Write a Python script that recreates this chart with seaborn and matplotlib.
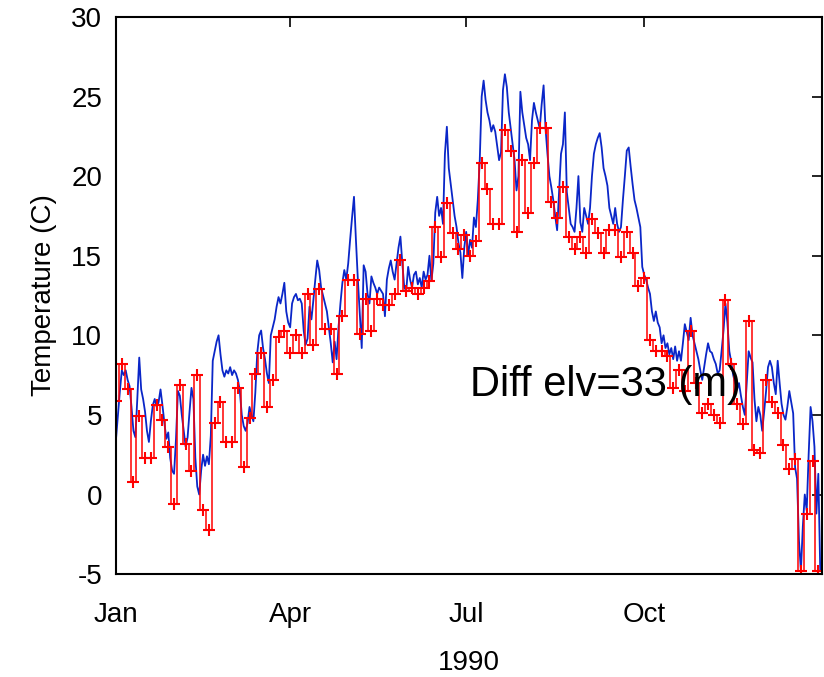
import matplotlib
matplotlib.use('Agg')
import matplotlib.pyplot as plt
import pandas as pd
import seaborn as sns

# daily temperature, station 1 (blue), Jan 1 - Dec 31 1990
blue_temp = [
    3.5, 5.0, 6.5, 7.8, 7.5, 7.8, 7.2, 6.8, 5.5, 4.0,
    3.6, 6.0, 8.6, 6.6, 6.0, 5.2, 4.0, 3.3, 4.6, 5.6,
    6.0, 5.5, 5.8, 6.6, 5.6, 4.5, 3.5, 3.9, 2.3, 1.5,
    1.3, 3.5, 6.5, 6.2, 5.0, 4.0, 3.0, 3.6, 5.2, 6.7,
    6.0, 2.3, 0.5, 0.0, 1.5, 2.5, 1.8, 2.4, 1.9, 3.7,
    8.4, 9.0, 9.6, 10.0, 8.8, 7.8, 7.4, 7.8, 7.6, 8.0,
    7.5, 7.8, 7.6, 7.2, 6.5, 5.0, 4.3, 4.0, 4.5, 5.5,
    5.0, 4.6, 6.4, 8.9, 10.0, 10.3, 9.2, 8.5, 7.6, 7.0,
    10.0, 10.5, 11.0, 11.8, 12.4, 12.0, 12.6, 13.3, 11.5, 10.8,
    10.5, 12.0, 12.4, 12.6, 12.2, 12.3, 12.0, 10.3, 9.4, 9.8,
    11.8, 11.0, 12.2, 13.5, 14.7, 14.1, 13.0, 12.5, 12.0, 11.5,
    10.5, 9.5, 8.3, 9.6, 8.5, 10.5, 12.0, 13.3, 14.1, 13.5,
    14.5, 16.0, 17.4, 18.7, 16.0, 13.5, 11.4, 9.2, 14.4, 14.0,
    12.6, 12.0, 13.7, 13.3, 13.0, 12.6, 13.0, 12.8, 12.6, 11.2,
    13.5, 14.2, 14.7, 14.0, 13.5, 14.5, 15.5, 16.2, 14.5, 13.0,
    12.8, 14.3, 13.5, 13.0, 13.8, 14.0, 13.2, 13.6, 13.0, 14.0,
    13.5, 13.8, 15.0, 13.4, 14.5, 17.7, 18.7, 17.5, 18.0, 17.0,
    21.4, 23.1, 20.5, 19.5, 18.5, 17.5, 16.8, 15.8, 15.2, 13.6,
    15.5, 16.5, 15.0, 16.0, 15.5, 17.4, 16.8, 18.5, 21.0, 25.0,
    26.0, 24.8, 24.0, 23.5, 22.8, 23.2, 22.8, 21.9, 21.0, 21.5,
    25.4, 26.4, 25.6, 24.0, 23.0, 22.0, 21.0, 19.1, 20.0, 25.3,
    24.0, 23.2, 22.4, 22.0, 21.0, 23.5, 24.6, 24.0, 23.5, 23.0,
    24.5, 25.7, 23.0, 21.4, 20.0, 19.3, 18.5, 17.5, 16.6, 19.0,
    21.4, 22.0, 24.0, 19.0, 18.0, 17.0, 16.8, 16.5, 18.0, 20.0,
    17.1, 16.5, 18.0, 17.5, 17.0, 18.0, 20.0, 21.4, 22.0, 22.4,
    22.7, 21.8, 20.5, 20.0, 19.4, 18.0, 17.5, 17.0, 18.0, 17.0,
    16.5, 16.8, 18.5, 20.0, 21.6, 21.8, 20.6, 19.5, 18.5, 18.0,
    17.4, 16.8, 14.3, 13.8, 13.5, 13.0, 12.6, 11.5, 10.9, 11.5,
    10.8, 10.5, 9.5, 10.0, 9.2, 9.5, 8.8, 9.2, 8.5, 9.3,
    8.4, 9.0, 8.4, 9.5, 10.7, 10.2, 9.7, 11.1, 10.0, 9.5,
    9.0, 8.5, 7.8, 7.2, 8.0, 8.8, 9.5, 9.0, 8.9, 8.5,
    8.2, 7.6, 7.8, 9.0, 10.3, 12.0, 10.8, 9.0, 8.3, 7.5,
    7.0, 6.6, 7.0, 6.2, 5.5, 5.0, 7.0, 9.0, 8.6, 8.3,
    6.0, 4.6, 5.5, 5.0, 4.0, 5.2, 6.5, 8.0, 8.4, 8.0,
    7.0, 6.3, 8.4, 7.0, 5.7, 5.0, 4.7, 5.5, 6.5, 5.8,
    5.1, 1.7, 1.0, -2.9, -4.8, -2.0, 0.0, -1.0, 2.5, 5.5,
    4.6, 3.0, -1.2, 1.3, -4.8,
]

# station 2 (red +), one value every 3 days
red_temp = [
    5.9, 8.2, 6.6, 0.8, 4.9, 2.3, 2.3, 5.6, 4.7, 3.0,
    -0.6, 6.9, 3.2, 1.5, 7.5, -1.0, -2.2, 4.5, 5.8, 3.3,
    3.3, 6.7, 1.7, 4.8, 7.6, 8.9, 5.5, 7.2, 9.9, 10.3,
    8.9, 10.0, 8.9, 12.6, 9.4, 12.9, 10.4, 10.4, 7.6, 11.2,
    13.5, 13.5, 10.1, 12.3, 10.3, 12.3, 11.9, 11.9, 12.6, 14.7,
    12.8, 13.0, 12.6, 13.0, 13.4, 16.8, 14.9, 18.3, 16.4, 15.4,
    16.3, 15.0, 15.9, 20.8, 19.2, 17.0, 17.0, 22.9, 21.6, 16.5,
    21.0, 17.7, 20.8, 23.0, 23.0, 18.4, 17.4, 19.3, 16.2, 15.4,
    16.2, 15.2, 17.3, 16.4, 15.2, 16.6, 16.6, 14.9, 16.5, 15.2,
    13.1, 13.6, 9.7, 9.0, 9.0, 8.7, 6.7, 7.8, 6.5, 10.3,
    7.0, 5.1, 5.7, 5.0, 4.5, 12.2, 8.2, 5.7, 4.4, 10.9,
    2.8, 2.6, 7.2, 5.8, 5.1, 3.1, 1.6, 2.2, -4.8, -1.2,
    2.1, -4.8,
]

tick_dates = ['1990-01-01', '1990-04-01', '1990-07-01', '1990-10-01']
tick_labels = ['Jan', 'Apr', 'Jul', 'Oct']
y_ticks = [-5, 0, 5, 10, 15, 20, 25, 30]

blue_df = pd.DataFrame({'date': pd.date_range('1990-01-01', periods=len(blue_temp), freq='D'),
                        'temp': blue_temp})
red_df = pd.DataFrame({'date': pd.date_range('1990-01-01', periods=len(red_temp), freq='3D'),
                       'temp': red_temp})

sns.set_style('white')
plt.rcParams['font.family'] = ['Liberation Sans', 'DejaVu Sans']
plt.rcParams['axes.unicode_minus'] = False
plt.rcParams['text.color'] = 'black'
plt.rcParams['axes.labelcolor'] = 'black'

fig = plt.figure(figsize=(8.24, 6.77), dpi=100)
ax = fig.add_axes([0.1408, 0.152, 0.857, 0.823])

sns.lineplot(data=blue_df, x='date', y='temp', color='#0a26c8', lw=1.3, ax=ax)
sns.lineplot(data=red_df, x='date', y='temp', color='red', lw=1.1, marker='+',
             drawstyle='steps-mid', markersize=8, markeredgewidth=1.5,
             markeredgecolor='red', ax=ax)

ax.set_xlim(pd.Timestamp('1990-01-01'), pd.Timestamp('1991-01-01'))
ax.set_ylim(-5, 30)
ax.set_xticks(pd.to_datetime(tick_dates))
ax.set_xticklabels(tick_labels)
ax.set_yticks(y_ticks)
ax.tick_params(direction='in', top=True, right=True, length=7, width=1.2,
               labelsize=20, colors='black')
ax.tick_params(axis='x', pad=20)
ax.tick_params(axis='y', pad=10)
for s in ax.spines.values():
    s.set_linewidth(1.5)
    s.set_color('black')

ax.set_xlabel('1990', fontsize=20, labelpad=16)
ax.set_ylabel('Temperature (C)', fontsize=20, labelpad=10)
ax.text(pd.Timestamp('1990-07-03'), 6.9, 'Diff elv=33 (m)', fontsize=30,
        va='center', ha='left', color='black')

fig.savefig('out.png', dpi=100)
